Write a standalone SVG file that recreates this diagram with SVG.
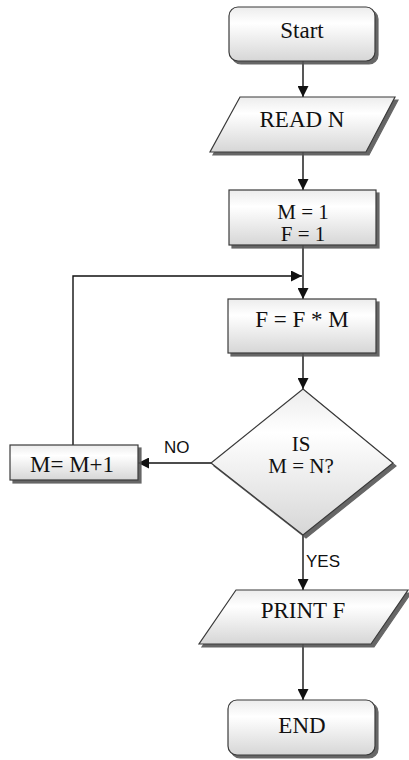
<svg xmlns="http://www.w3.org/2000/svg" width="409" height="760" viewBox="0 0 409 760">
<style>
.shape{fill:url(#g);stroke:#3a3a3a;stroke-width:1.2;filter:url(#sh)}
.t{font-family:"Liberation Serif","Times New Roman",serif;font-size:23px;fill:#111;text-anchor:middle}
.t2{font-family:"Liberation Serif","Times New Roman",serif;font-size:21px;fill:#111;text-anchor:middle}
.s{font-family:"Liberation Sans",Arial,sans-serif;font-size:17px;fill:#111}
.c{fill:none;stroke:#111;stroke-width:1.4;marker-end:url(#ah)}
</style>
<defs>
<linearGradient id="g" x1="0" y1="0" x2="0" y2="1">
<stop offset="0" stop-color="#ececec"/>
<stop offset="0.3" stop-color="#ffffff"/>
<stop offset="1" stop-color="#d6d6d6"/>
</linearGradient>
<filter id="sh" x="-10%" y="-10%" width="130%" height="130%">
<feDropShadow dx="3" dy="3" stdDeviation="0.7" flood-color="#555" flood-opacity="0.9"/>
</filter>
<marker id="ah" viewBox="0 0 10 10" refX="10" refY="5" markerWidth="11" markerHeight="11" markerUnits="userSpaceOnUse" orient="auto">
<path d="M0,0 L10,5 L0,10 z" fill="#111"/>
</marker>
</defs>
<g id="connectors">
<path class="c" d="M303,61 V97"/>
<path class="c" d="M303,152 V190"/>
<path class="c" d="M303,245 V299"/>
<path class="c" d="M73,445 V276 H302"/>
<path class="c" d="M303,353 V389"/>
<path class="c" d="M211,463 H138"/>
<path class="c" d="M303,535 V590"/>
<path class="c" d="M303,644 V700"/>
<text class="s" x="164" y="453">NO</text>
<text class="s" x="306" y="567">YES</text>
</g>
<g id="start">
<rect class="shape" x="229" y="7" width="146" height="54" rx="9"/>
<text class="t" x="302" y="38">Start</text>
</g>
<g id="read">
<polygon class="shape" points="240,97 395,97 366,152 210,152"/>
<text class="t" x="302" y="127">READ N</text>
</g>
<g id="init">
<rect class="shape" x="229" y="190" width="147" height="55"/>
<text class="t2" x="303" y="219">M = 1</text>
<text class="t2" x="303" y="241">F = 1</text>
</g>
<g id="mult">
<rect class="shape" x="228" y="299" width="148" height="54"/>
<text class="t" x="302" y="327">F = F * M</text>
</g>
<g id="decision">
<polygon class="shape" points="303,389 393,463 303,535 211,463"/>
<text class="t2" x="301" y="451">IS</text>
<text class="t2" x="301" y="473">M = N?</text>
</g>
<g id="incr">
<rect class="shape" x="10" y="445" width="128" height="35"/>
<text class="t" x="72" y="472">M= M+1</text>
</g>
<g id="print">
<polygon class="shape" points="236,590 408,590 371,644 199,644"/>
<text class="t" x="303" y="618">PRINT F</text>
</g>
<g id="end">
<rect class="shape" x="228" y="700" width="147" height="55" rx="9"/>
<text class="t" x="302" y="733">END</text>
</g>
</svg>
